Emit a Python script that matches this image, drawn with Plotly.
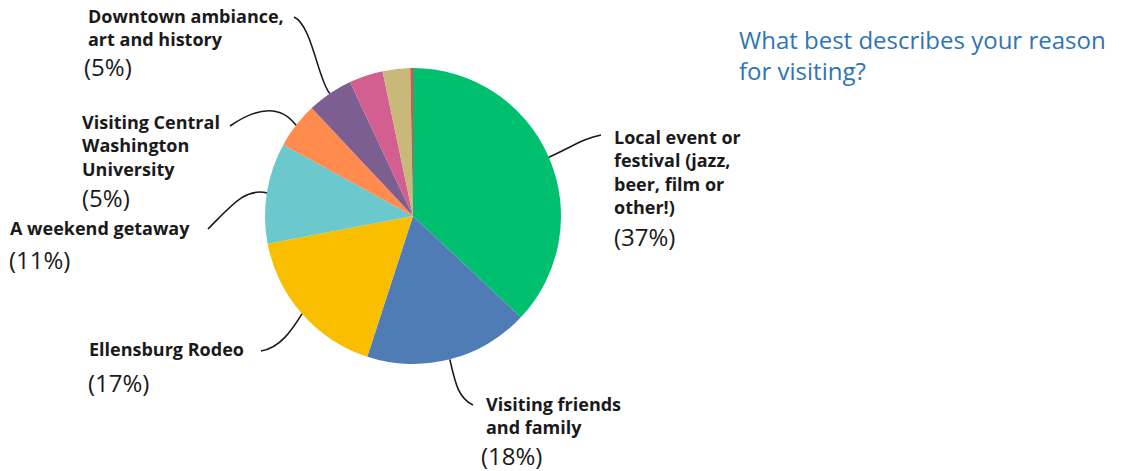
import numpy as np
import plotly.graph_objects as go

# Survey responses, clockwise from 12 o'clock
categories = [
    "Local event or festival (jazz, beer, film or other!)",
    "Visiting friends and family",
    "Ellensburg Rodeo",
    "A weekend getaway",
    "Visiting Central Washington University",
    "Downtown ambiance, art and history",
    "Other reason A",
    "Other reason B",
    "Other reason C",
]
shares = [37, 18, 17, 11, 5, 5, 3.7, 3.0, 0.3]
label_lines = [
    ["Local event or", "festival (jazz,", "beer, film or", "other!)"],
    ["Visiting friends", "and family"],
    ["Ellensburg Rodeo"],
    ["A weekend getaway"],
    ["Visiting Central", "Washington", "University"],
    ["Downtown ambiance,", "art and history"],
    None, None, None,
]
colors = ["#00BF6F", "#507CB6", "#F9BE00", "#6BC8CD", "#FF8B4F",
          "#7D5E90", "#D25F90", "#C8B97A", "#E05050"]

W, H = 1122, 471
CX, CY, R = 413, 216, 148

def px(x):
    return x / W

def py(y):
    return 1 - y / H

fig = go.Figure()
fig.add_trace(go.Pie(
    labels=categories, values=shares, sort=False, direction="clockwise",
    rotation=0, marker=dict(colors=colors, line=dict(width=0)),
    textinfo="none", hoverinfo="label+percent", showlegend=False,
    domain=dict(x=[px(CX - R), px(CX + R)], y=[py(CY + R), py(CY - R)]),
))

# anchor of each leader line: slice mid-angle on the rim
vals = np.array(shares, dtype=float)
mid = (np.cumsum(vals) - vals / 2) / vals.sum() * 2 * np.pi
anchors = [(CX + R * np.sin(a), CY - R * np.cos(a)) for a in mid]

# leader curves: (control 1, control 2, end), and label placement
leaders = {
    0: ((575, 145), (585, 138), (601, 135)),
    1: ((455, 382), (458, 398), (473, 405)),
    2: ((292, 330), (280, 348), (261, 351)),
    3: ((245, 188), (232, 205), (208, 229)),
    4: ((283, 108), (262, 104), (230, 126)),
    5: ((318, 80), (312, 25), (294, 17)),
}
label_pos = {  # left x, first line centre y, pct left x, pct centre y
    0: (612, 137, 612, 236),
    1: (484, 404, 479, 455),
    2: (87, 349, 86, 382),
    3: (8, 228, 7, 259),
    4: (80, 122, 80, 197),
    5: (86, 16, 82, 67),
}

shapes = []
annotations = []
LH = 23.4  # 1.3 x font size, plotly's multi-line spacing
for i, (c1, c2, end) in leaders.items():
    ax, ay = anchors[i]
    path = (f"M {px(ax)},{py(ay)} C {px(c1[0])},{py(c1[1])} "
            f"{px(c2[0])},{py(c2[1])} {px(end[0])},{py(end[1])}")
    shapes.append(dict(type="path", xref="paper", yref="paper", path=path,
                       line=dict(color="#1a1a1a", width=1.6)))
    lx, ly, tx, ty = label_pos[i]
    lines = label_lines[i]
    annotations.append(dict(
        x=px(lx), y=py(ly + (len(lines) - 1) * LH / 2), xref="paper",
        yref="paper", xanchor="left", yanchor="middle", align="left",
        showarrow=False, text="<br>".join(lines),
        font=dict(family="Open Sans", size=18, color="#1a1a1a", weight="bold"),
    ))
    annotations.append(dict(
        x=px(tx), y=py(ty), xref="paper", yref="paper", xanchor="left",
        yanchor="middle", showarrow=False, text=f"({shares[i]:g}%)",
        font=dict(family="Open Sans", size=24, color="#1a1a1a"),
    ))

annotations.append(dict(
    x=px(737), y=py(55), xref="paper", yref="paper", xanchor="left",
    yanchor="middle", align="left", showarrow=False,
    text="What best describes your reason<br>for visiting?",
    font=dict(family="Open Sans", size=24, color="#2E75B6"),
))

fig.update_layout(
    width=W, height=H, autosize=False,
    margin=dict(l=0, r=0, t=0, b=0),
    paper_bgcolor="white", plot_bgcolor="white",
    shapes=shapes, annotations=annotations,
)
fig.write_html("out.html")
